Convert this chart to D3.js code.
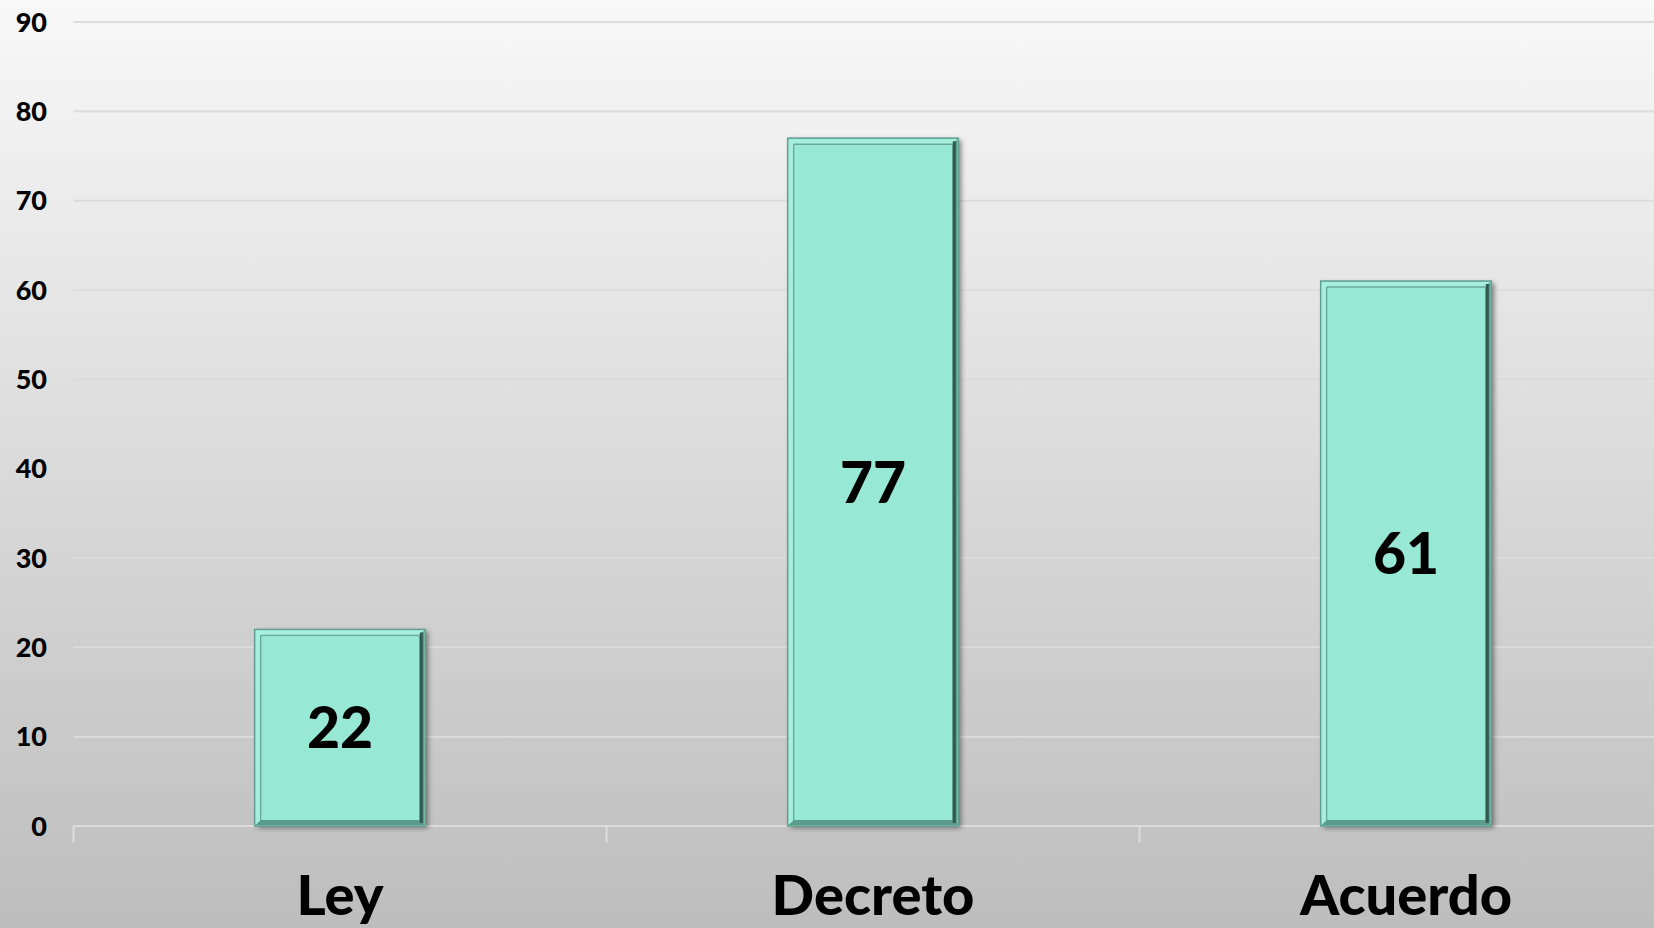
<!DOCTYPE html>
<html><head><meta charset="utf-8">
<script src="https://cdn.jsdelivr.net/npm/d3@7"></script>
<style>html,body{margin:0;padding:0;overflow:hidden;background:#fff}</style>
</head><body>
<svg id="c" width="1654" height="928"></svg>
<script>
const categories = ["Ley", "Decreto", "Acuerdo"];
const values = [22, 77, 61];
const yTicks = [0, 10, 20, 30, 40, 50, 60, 70, 80, 90];

const W = 1654, H = 928;
const svg = d3.select("#c");
const defs = svg.append("defs");
const bg = defs.append("linearGradient").attr("id","bg").attr("x1",0).attr("y1",0).attr("x2",0).attr("y2",1);
bg.append("stop").attr("offset","0%").attr("stop-color","#f8f8f8");
bg.append("stop").attr("offset","100%").attr("stop-color","#bdbdbd");
const blur = defs.append("filter").attr("id","sh").attr("x","-20%").attr("y","-20%").attr("width","140%").attr("height","140%");
blur.append("feGaussianBlur").attr("stdDeviation",2.5);

svg.append("rect").attr("width",W).attr("height",H).attr("fill","url(#bg)");

const x0 = 73.5, step = 533;
const x = d3.scaleBand().domain(categories).range([x0, x0 + step*categories.length]).paddingInner(0.68).paddingOuter(0.34);
const y = d3.scaleLinear().domain([0, 90]).range([826, 22]);

// gridlines
svg.append("g").selectAll("line").data(yTicks).join("line")
  .attr("x1", x0).attr("x2", W).attr("y1", d=>y(d)).attr("y2", d=>y(d))
  .attr("stroke", "#dcdcdc").attr("stroke-width", 2);

// category ticks
const bounds = d3.range(categories.length + 1).map(i => x0 + i*step);
svg.append("g").selectAll("line").data(bounds).join("line")
  .attr("x1", d=>d).attr("x2", d=>d).attr("y1", y(0)).attr("y2", y(0)+17)
  .attr("stroke", "#dcdcdc").attr("stroke-width", 2);

// y labels
svg.append("g").selectAll("text").data(yTicks).join("text")
  .attr("x", 47).attr("y", d=>y(d)).attr("dy","0.36em")
  .attr("text-anchor","end")
  .attr("font-family","Lato, 'DejaVu Sans', sans-serif").attr("font-weight",900)
  .attr("font-size",27).attr("fill","#000").text(d=>d);

// bars
const bars = svg.append("g").selectAll("g").data(values).join("g")
  .attr("transform",(d,i)=>`translate(${x(categories[i])},${y(d)})`);
const bw = x.bandwidth();
const bh = d => y(0) - y(d);
bars.append("rect").attr("x",3).attr("y",2).attr("width",bw).attr("height",d=>bh(d))
  .attr("fill","#3a3a3a").attr("opacity",0.6).attr("filter","url(#sh)");
bars.append("rect").attr("width",bw).attr("height",d=>bh(d))
  .attr("fill","#98e8d6").attr("stroke","#5e9e8f").attr("stroke-width",1.5);
const ins = 6;
// top/left light bevel
bars.append("path").attr("d", d=>{const h=bh(d);return `M1,1 L${bw-1},1 L${bw-ins},${ins} L${ins},${ins} L${ins},${h-ins} L1,${h-1} Z`;})
  .attr("fill","#a6eedd");
// bottom/right dark bevel
bars.append("path").attr("d", d=>{const h=bh(d);return `M${bw-1},1 L${bw-1},${h-1} L1,${h-1} L${ins},${h-ins} L${bw-ins},${h-ins} L${bw-ins},${ins} Z`;})
  .attr("fill","#5a9b8b");
bars.append("path").attr("d", d=>{const h=bh(d);return `M${bw-4},3 L${bw-4},${h-3}`;})
  .attr("stroke","#33594f").attr("stroke-width",3);
bars.append("path").attr("d", d=>{const h=bh(d);return `M${ins},${ins} L${bw-ins},${ins} M${ins},${ins} L${ins},${h-ins}`;})
  .attr("stroke","#6aa999").attr("stroke-width",1.5).attr("fill","none");
bars.append("rect").attr("x",ins+1).attr("y",ins+1).attr("width",bw-2*ins-2).attr("height",d=>bh(d)-2*ins-2)
  .attr("fill","#98e8d6");

// value labels
bars.append("text").attr("x",bw/2).attr("y",d=>bh(d)/2).attr("dy","0.36em")
  .attr("text-anchor","middle")
  .attr("font-family","Lato, 'DejaVu Sans', sans-serif").attr("font-weight",900)
  .attr("font-size",57).attr("fill","#000").text(d=>d);

// category labels
svg.append("g").selectAll("text").data(categories).join("text")
  .attr("x", d=>x(d)+bw/2).attr("y", 915)
  .attr("text-anchor","middle")
  .attr("font-family","Lato, 'DejaVu Sans', sans-serif").attr("font-weight",900)
  .attr("font-size",56).attr("fill","#000").text(d=>d);
</script>
</body></html>
